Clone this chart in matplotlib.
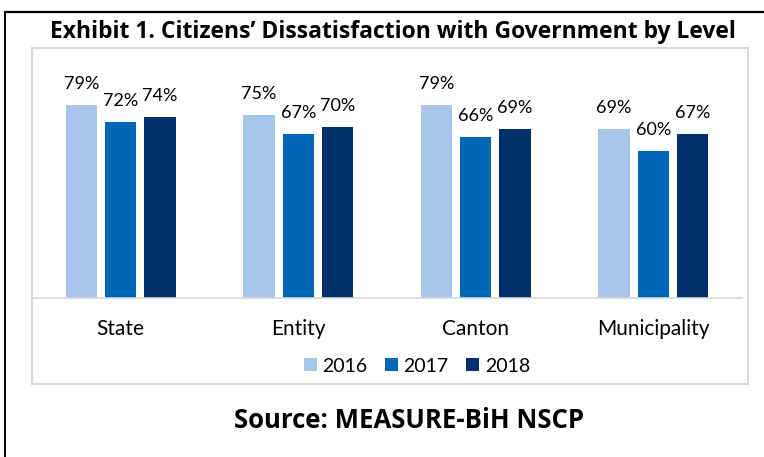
import matplotlib
matplotlib.use("Agg")
import matplotlib.pyplot as plt
from matplotlib.patches import Rectangle
from matplotlib.lines import Line2D
import numpy as np

plt.rcParams['font.family'] = ['Lato', 'DejaVu Sans']

categories = ["State", "Entity", "Canton", "Municipality"]
years = ["2016", "2017", "2018"]
values_2016 = [79, 75, 79, 69]
values_2017 = [72, 67, 66, 60]
values_2018 = [74, 70, 69, 67]
series = [values_2016, values_2017, values_2018]
colors = ["#A7C6EC", "#0066B6", "#002F6B"]

W, H = 764, 457
fig = plt.figure(figsize=(W/100, H/100), dpi=100)

def fx(px):
    return px / W

def fy(py):
    return 1 - py / H

# outer black border (top and left)
fig.add_artist(Line2D([fx(5), 1.0], [fy(11.7), fy(11.7)], color="black", lw=1.6, transform=fig.transFigure))
fig.add_artist(Line2D([fx(5), fx(5)], [fy(11.7), 0.0], color="black", lw=1.4, transform=fig.transFigure))

# inner light gray frame
fig.add_artist(Rectangle((fx(31.7), fy(384)), fx(747.7) - fx(31.7), fy(48) - fy(384),
                         fill=False, edgecolor="#D9D9D9", lw=1.5, transform=fig.transFigure))

ax = fig.add_axes([fx(32), fy(298), fx(742) - fx(32), fy(53.7) - fy(298)])
x = np.arange(len(categories))
width = 0.175
offset = 0.221
for i, (vals, col, yr) in enumerate(zip(series, colors, years)):
    pos = x + (i - 1) * offset
    bars = ax.bar(pos, vals, width=width, color=col, label=yr, zorder=2)
    for b, v in zip(bars, vals):
        ax.annotate(f"{v}%", (b.get_x() + b.get_width() / 2, v), xytext=(0, 11.5),
                    textcoords="offset points", ha="center", va="baseline",
                    fontsize=13, color="black")

ax.set_xlim(-0.5, len(categories) - 0.5)
ax.set_ylim(0, 100)
ax.set_yticks([])
ax.set_xticks(x)
ax.set_xticklabels(categories, fontsize=15)
ax.tick_params(axis="x", length=0, pad=15)
for s in ["top", "right", "left"]:
    ax.spines[s].set_visible(False)
ax.spines["bottom"].set_color("#D9D9D9")
ax.spines["bottom"].set_linewidth(1.2)
ax.patch.set_alpha(0)

handles, labels = ax.get_legend_handles_labels()
fig.legend(handles, labels, loc="center", bbox_to_anchor=(fx(417), fy(366)), ncol=3,
           frameon=False, fontsize=14, handlelength=0.65, handleheight=0.65,
           handletextpad=0.3, columnspacing=0.9, borderaxespad=0)

bold_font = ['Open Sans', 'DejaVu Sans']
fig.text(fx(392.5), fy(32), "Exhibit 1. Citizens\u2019 Dissatisfaction with Government by Level",
         ha="center", va="center", fontsize=16.5, fontweight="bold", color="black", family=bold_font)
fig.text(fx(409.5), fy(421), "Source: MEASURE-BiH NSCP", ha="center", va="center",
         fontsize=18.5, fontweight="bold", color="black", family=bold_font)

fig.savefig("out.png", dpi=100)
